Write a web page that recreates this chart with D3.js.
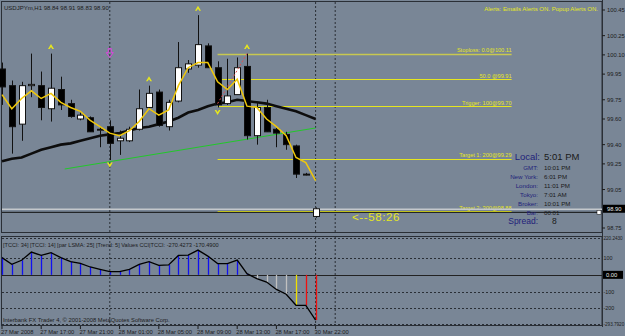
<!DOCTYPE html>
<html>
<head>
<meta charset="utf-8">
<script src="https://cdn.jsdelivr.net/npm/d3@7/dist/d3.min.js"></script>
<style>
  body { margin: 0; background: #798696; }
  svg { display: block; font-family: "Liberation Sans", Arial, sans-serif; }
</style>
</head>
<body>
<svg id="chart" width="625" height="336"></svg>
<script>
// USDJPYm H1 bars, oldest first (27 Mar 13:00 .. 30 Mar 22:00)
var opens  = [99.99, 99.86, 99.56, 99.86, 99.86, 99.68, 99.83, 99.72, 99.60, 99.61, 99.52, 99.54, 99.43, 99.43, 99.52, 99.69, 99.81, 99.54, 99.74, 99.99, 100.02, 100.17, 100.00, 99.72, 99.79, 100.01, 99.47, 99.69, 99.52, 99.48, 99.39, 99.17, 98.84];
var highs  = [100.04, 99.90, 99.89, 100.11, 99.97, 100.11, 99.93, 99.75, 99.65, 99.62, 99.54, 99.59, 99.51, 99.54, 99.83, 99.86, 99.83, 99.75, 100.20, 100.06, 100.41, 100.19, 100.05, 100.07, 100.08, 100.11, 99.73, 99.75, 99.53, 99.50, 99.40, 99.18, 98.91];
var lows   = [99.71, 99.33, 99.43, 99.77, 99.59, 99.58, 99.67, 99.61, 99.59, 99.50, 99.38, 99.28, 99.32, 99.42, 99.51, 99.68, 99.54, 99.51, 99.73, 99.96, 100.00, 100.00, 99.69, 99.71, 99.79, 99.44, 99.40, 99.50, 99.38, 99.36, 99.14, 99.16, 98.83];
var closes = [99.85, 99.54, 99.86, 99.87, 99.69, 99.84, 99.71, 99.62, 99.63, 99.50, 99.52, 99.41, 99.45, 99.52, 99.68, 99.80, 99.55, 99.73, 100.00, 100.03, 100.18, 100.00, 99.71, 99.78, 100.00, 99.47, 99.69, 99.50, 99.49, 99.40, 99.17, 99.17, 98.90];

// moving averages drawn over the candles
var fastMA = [99.79, 99.68, 99.76, 99.82, 99.76, 99.80, 99.73, 99.69, 99.66, 99.59, 99.54, 99.49, 99.47, 99.51, 99.58, 99.68, 99.63, 99.67, 99.86, 100.00, 100.04, 100.04, 99.89, 99.83, 99.91, 99.70, 99.69, 99.60, 99.54, 99.47, 99.30, 99.26, 99.12];
var slowMA = [99.27, 99.29, 99.30, 99.33, 99.36, 99.38, 99.40, 99.41, 99.43, 99.45, 99.47, 99.48, 99.49, 99.51, 99.53, 99.54, 99.56, 99.58, 99.61, 99.65, 99.67, 99.70, 99.72, 99.73, 99.75, 99.74, 99.73, 99.72, 99.70, 99.68, 99.66, 99.63, 99.60];

// green trend line: [bar, price] ends
var trendStart = [6.4, 99.21];
var trendEnd = [32, 99.53];
// red dotted trend line
var redStart = [22, 99.72];
var redEnd = [25, 100.11];

var fractalUp = [5, 15, 20, 25];
var fractalDown = [11, 22];

// order levels
var levelNames  = ["Stoploss: 0.0@100.11", "50.0  @99.91", "Trigger: 100@99.70", "Target 1: 200@99.29", "Target 2: 300@98.88"];
var levelPrices = [100.11, 99.91, 99.70, 99.29, 98.88];
var levelFrom = 22, levelTo = 52;

// CCI panel
var cci = [103, 63, 87, 136, 116, 133, 103, 79, 69, 47, 33, 19, 19, 33, 63, 79, 57, 59, 116, 118, 148, 112, 67, 67, 88, 7, -23, -43, -87, -116, -182, -182, -270.43];
var cciState = ["u","u","u","u","u","u","u","u","u","u","u","u","u","u","u","u","u","u","u","u","u","u","u","u","u","u","n","n","n","n","w","d","d"];

var timeLabels = ["27 Mar 2008", "27 Mar 17:00", "27 Mar 21:00", "28 Mar 01:00", "28 Mar 05:00", "28 Mar 09:00", "28 Mar 13:00", "28 Mar 17:00", "30 Mar 22:00"];
var priceTicks = [100.45, 100.25, 100.10, 99.95, 99.75, 99.60, 99.40, 99.25, 99.05, 98.75];
var cciTicks = [220.243, 100, -100, -200, -293.792];
var cciTickText = ["220.2430", "100", "-100", "-200", "-293.7920"];
var separators = [11, 32, 34];

var clockNames  = ["GMT:", "New York:", "London:", "Tokyo:", "Broker:", "Bar:"];
var clockValues = ["10:01 PM", "6:01 PM", "11:01 PM", "7:01 AM", "10:01 PM", "00:01"];

var svg = d3.select("#chart");
var right = 602;

var x = d3.scaleLinear().domain([0, 32]).range([2, 315.6]);
var y = d3.scaleLinear().domain([98.75, 100.45]).range([228, 10]);
var yc = d3.scaleLinear().domain([-293.792, 220.243]).range([324, 238]);

var dark = "#1c1c1c", yel = "#e6e61e", gold = "#f0c80a", frame = "#2a2f36";

// panel frames
svg.append("rect").attr("x", 1.5).attr("y", 1.5).attr("width", right - 1.5).attr("height", 231)
  .attr("fill", "none").attr("stroke", frame);
svg.append("rect").attr("x", 1.5).attr("y", 236.5).attr("width", right - 1.5).attr("height", 89)
  .attr("fill", "none").attr("stroke", frame);

// period separators
separators.forEach(function(i) {
  svg.append("line").attr("x1", x(i)).attr("x2", x(i)).attr("y1", 2).attr("y2", 232)
    .attr("stroke", frame).attr("stroke-dasharray", "2,2");
  svg.append("line").attr("x1", x(i)).attr("x2", x(i)).attr("y1", 237).attr("y2", 325)
    .attr("stroke", frame).attr("stroke-dasharray", "2,2");
});

// ---------- main panel ----------
var main = svg.append("g");

// level lines
levelPrices.forEach(function(p, k) {
  main.append("line").attr("x1", x(levelFrom)).attr("x2", x(levelTo))
    .attr("y1", Math.round(y(p)) + 0.5).attr("y2", Math.round(y(p)) + 0.5)
    .attr("stroke", k == 0 ? "#c8c850" : yel).attr("stroke-width", k == 0 ? 1.6 : 1);
  main.append("text").attr("x", x(levelTo)).attr("y", y(p) - 1.5)
    .attr("text-anchor", "end").attr("font-size", 5.6).attr("fill", yel)
    .text(levelNames[k]);
});

// bid line
var bid = closes[closes.length - 1];
main.append("line").attr("x1", 2).attr("x2", right).attr("y1", y(bid) + 0.5).attr("y2", y(bid) + 0.5)
  .attr("stroke", "#c4c8cc").attr("stroke-width", 1.5);
main.append("line").attr("x1", 2).attr("x2", right - 4).attr("y1", y(98.88) + 1).attr("y2", y(98.88) + 1)
  .attr("stroke", "#111");
main.append("rect").attr("x", right - 5).attr("y", y(98.88) - 1).attr("width", 4).attr("height", 4)
  .attr("fill", "#fff").attr("stroke", "#111").attr("stroke-width", 0.5);

// green trend line
main.append("line").attr("x1", x(trendStart[0])).attr("y1", y(trendStart[1]))
  .attr("x2", x(trendEnd[0])).attr("y2", y(trendEnd[1]))
  .attr("stroke", "#22c82a").attr("stroke-width", 1);

// slow MA
var line = d3.line().x(function(d, i) { return x(i); }).y(function(d) { return y(d); });
main.append("path").datum(slowMA).attr("d", line).attr("fill", "none")
  .attr("stroke", "#0d0d0d").attr("stroke-width", 2.6);

// candles
var bars = d3.range(opens.length);
main.selectAll("line.wick").data(bars).enter().append("line")
  .attr("class", "wick")
  .attr("x1", function(i) { return Math.round(x(i)) + 0.5; })
  .attr("x2", function(i) { return Math.round(x(i)) + 0.5; })
  .attr("y1", function(i) { return y(highs[i]); })
  .attr("y2", function(i) { return y(lows[i]); })
  .attr("stroke", "#111");
main.selectAll("rect.body").data(bars).enter().append("rect")
  .attr("class", "body")
  .attr("x", function(i) { return Math.round(x(i)) - 2.5; })
  .attr("width", 6)
  .attr("y", function(i) { return y(Math.max(opens[i], closes[i])); })
  .attr("height", function(i) { return Math.max(1, Math.abs(y(opens[i]) - y(closes[i]))); })
  .attr("fill", function(i) { return closes[i] >= opens[i] ? "#fff" : "#000"; })
  .attr("stroke", "#111").attr("stroke-width", 1);

// red dotted line
main.append("line").attr("x1", x(redStart[0])).attr("y1", y(redStart[1]))
  .attr("x2", x(redEnd[0])).attr("y2", y(redEnd[1]))
  .attr("stroke", "#e05050").attr("stroke-width", 1).attr("stroke-dasharray", "2,2");

// fast MA
main.append("path").datum(fastMA).attr("d", line).attr("fill", "none")
  .attr("stroke", gold).attr("stroke-width", 1.5);

// fractals
fractalUp.forEach(function(i) {
  main.append("path").attr("transform", "translate(" + x(i) + "," + (y(highs[i]) - 7) + ")")
    .attr("d", "M-3,2.5 L0,-2.5 L3,2.5 L1.3,2.5 L0,0.5 L-1.3,2.5 Z").attr("fill", yel);
});
fractalDown.forEach(function(i) {
  main.append("path").attr("transform", "translate(" + x(i) + "," + (y(lows[i]) + 5) + ")")
    .attr("d", "M-3,-2.5 L0,2.5 L3,-2.5 L1.3,-2.5 L0,-0.5 L-1.3,-2.5 Z").attr("fill", yel);
});
// hollow magenta arrow
main.append("path").attr("transform", "translate(" + x(11) + "," + y(100.11) + ")")
  .attr("d", "M-1.5,-5 L1.5,-5 L1.5,-1 L3.5,-1 L0,4 L-3.5,-1 L-1.5,-1 Z")
  .attr("fill", "none").attr("stroke", "#e040e0").attr("stroke-width", 1);

// countdown
main.append("text").attr("x", 352).attr("y", 221).attr("font-size", 11.5).attr("fill", yel)
  .attr("letter-spacing", 0.6).text("<--58:26");

// header texts
svg.append("text").attr("x", 4).attr("y", 10).attr("font-size", 6).attr("fill", dark)
  .text("USDJPYm,H1  98.84 98.91 98.83 98.90");
svg.append("text").attr("x", 598).attr("y", 11).attr("text-anchor", "end").attr("font-size", 6)
  .attr("fill", yel).text("Alerts:  Emails Alerts ON.  Popup Alerts ON.");

// clock panel
svg.append("text").attr("x", 540).attr("y", 160).attr("text-anchor", "end").attr("font-size", 9.5)
  .attr("fill", "#22227a").text("Local:");
svg.append("text").attr("x", 544).attr("y", 160).attr("font-size", 9.5).attr("fill", "#1a1a1a").text("5:01 PM");
clockNames.forEach(function(n, k) {
  var yy = 169.5 + k * 9;
  svg.append("text").attr("x", 538).attr("y", yy).attr("text-anchor", "end").attr("font-size", 6.2)
    .attr("fill", "#22227a").text(n);
  svg.append("text").attr("x", 544).attr("y", yy).attr("font-size", 6.2).attr("fill", "#1a1a1a").text(clockValues[k]);
});
svg.append("text").attr("x", 538).attr("y", 224).attr("text-anchor", "end").attr("font-size", 8.5)
  .attr("fill", "#22227a").text("Spread:");
svg.append("text").attr("x", 552).attr("y", 224).attr("font-size", 8.5).attr("fill", "#1a1a1a").text("8");

// price axis
var axisG = svg.append("g");
axisG.append("line").attr("x1", right + 0.5).attr("x2", right + 0.5).attr("y1", 0).attr("y2", 327).attr("stroke", frame);
priceTicks.forEach(function(p) {
  axisG.append("line").attr("x1", right).attr("x2", right + 3).attr("y1", y(p)).attr("y2", y(p)).attr("stroke", dark);
  axisG.append("text").attr("x", right + 5).attr("y", y(p) + 2).attr("font-size", 5.8).attr("fill", dark)
    .text(p.toFixed(2));
});
axisG.append("rect").attr("x", right + 1).attr("y", y(bid) - 4).attr("width", 22).attr("height", 8).attr("fill", "#000");
axisG.append("text").attr("x", right + 5).attr("y", y(bid) + 2).attr("font-size", 5.8).attr("fill", "#e8e8e8")
  .text(bid.toFixed(2));

// ---------- CCI panel ----------
var low = svg.append("g");
cciTicks.forEach(function(v, k) {
  low.append("line").attr("x1", 2).attr("x2", right).attr("y1", Math.round(yc(v)) + 0.5).attr("y2", Math.round(yc(v)) + 0.5)
    .attr("stroke", frame).attr("stroke-dasharray", "2,2");
  low.append("text").attr("x", right + 1.5).attr("y", yc(v) + 2)
    .attr("font-size", cciTickText[k].length > 5 ? 4.6 : 5.4).attr("fill", dark)
    .text(cciTickText[k]);
});
low.append("line").attr("x1", 2).attr("x2", right).attr("y1", Math.round(yc(0)) + 0.5).attr("y2", Math.round(yc(0)) + 0.5)
  .attr("stroke", "#222");
low.append("rect").attr("x", right + 1).attr("y", yc(0) - 4).attr("width", 20).attr("height", 8).attr("fill", "#000");
low.append("text").attr("x", right + 4).attr("y", yc(0) + 2).attr("font-size", 5.8).attr("fill", "#e8e8e8").text("0.00");

var stateColor = { u: "#1010f0", n: "#c0c0c0", w: "#f0e000", d: "#f01010" };
low.selectAll("line.hist").data(bars).enter().append("line")
  .attr("class", "hist")
  .attr("x1", function(i) { return Math.round(x(i)) + 0.5; })
  .attr("x2", function(i) { return Math.round(x(i)) + 0.5; })
  .attr("y1", yc(0))
  .attr("y2", function(i) { return yc(cci[i]); })
  .attr("stroke", function(i) { return stateColor[cciState[i]]; })
  .attr("stroke-width", 1.3);
var cline = d3.line().x(function(d, i) { return x(i); }).y(function(d) { return yc(d); });
low.append("path").datum(cci).attr("d", cline).attr("fill", "none").attr("stroke", "#000").attr("stroke-width", 1.3);

low.append("text").attr("x", 3).attr("y", 247).attr("font-size", 5.6).attr("fill", dark)
  .text("[TCCI: 34] [TCCI: 14] [par LSMA: 25] [Trend: 5] Values CCI|TCCI: -270.4273 -170.4900");
low.append("text").attr("x", 3).attr("y", 322).attr("font-size", 5.8).attr("fill", dark)
  .text("Interbank FX Trader 4, \u00a9 2001-2008 MetaQuotes Software Corp.");

// time axis
timeLabels.forEach(function(t, k) {
  var xx = x(k * 4);
  svg.append("line").attr("x1", xx).attr("x2", xx).attr("y1", 326).attr("y2", 329).attr("stroke", dark);
  svg.append("text").attr("x", xx - 1).attr("y", 334).attr("font-size", 5.8).attr("fill", dark).text(t);
});
</script>
</body>
</html>
